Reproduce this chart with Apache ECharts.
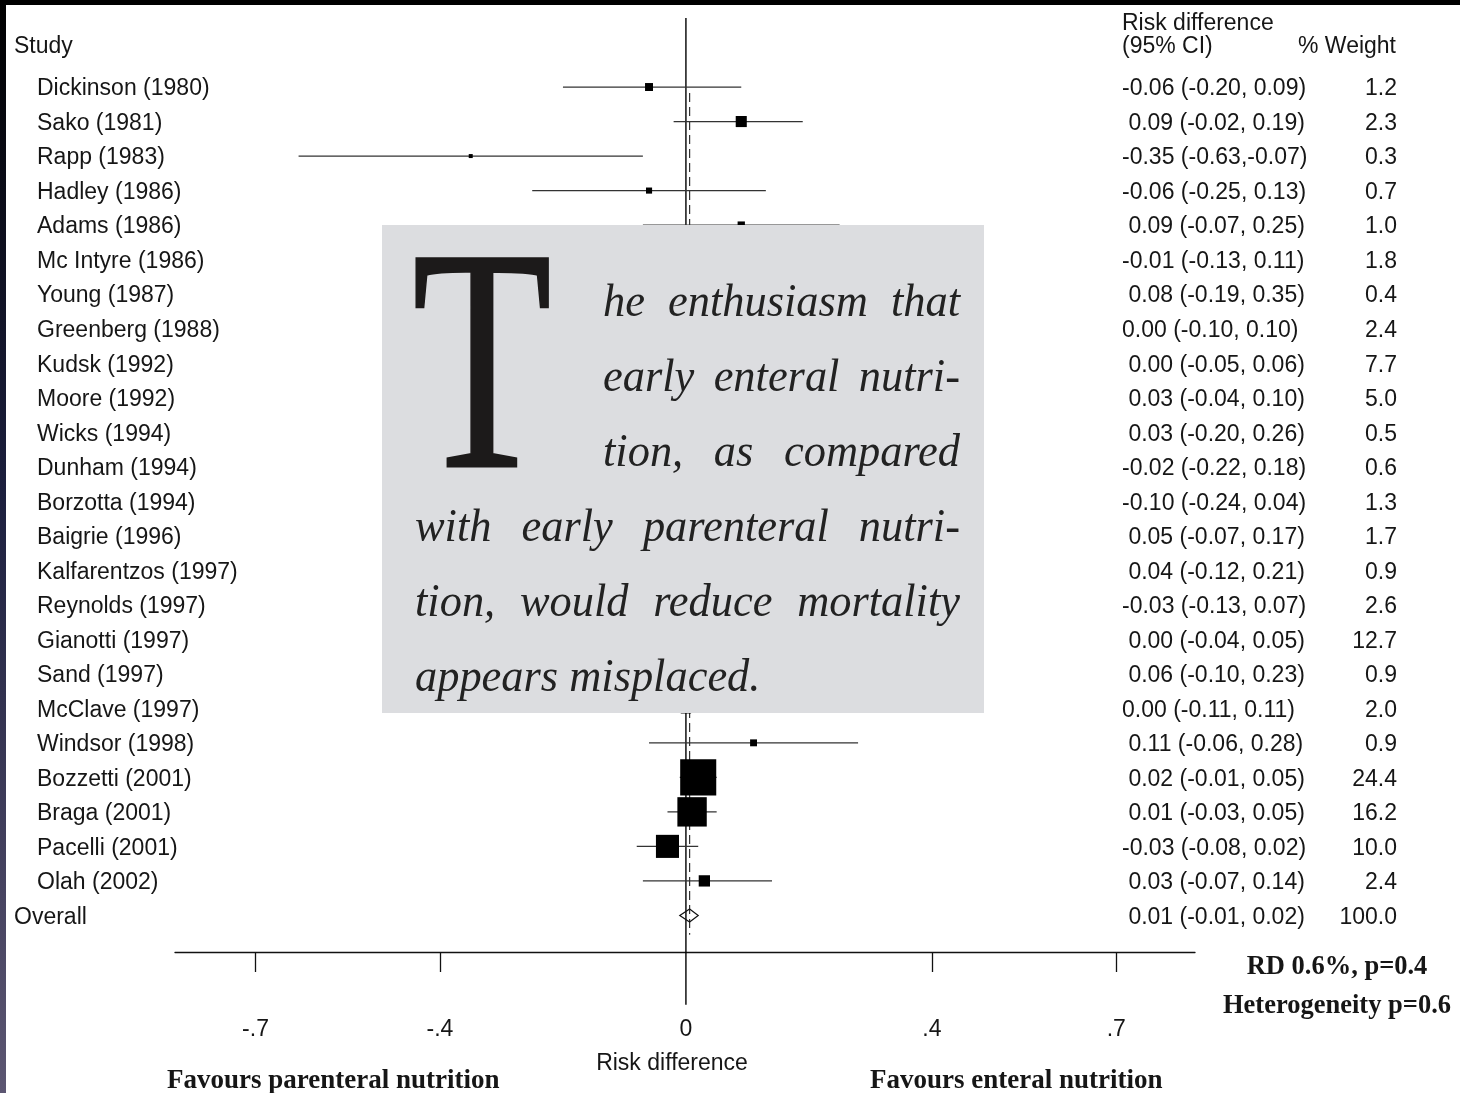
<!DOCTYPE html>
<html>
<head>
<meta charset="utf-8">
<script src="https://cdn.jsdelivr.net/npm/echarts@6/dist/echarts.min.js"></script>
<style>
html,body{margin:0;padding:0;background:#fff;}
#chart{width:1460px;height:1093px;}
</style>
</head>
<body>
<div id="chart"></div>
<script>
// ---------------- data ----------------
const studies = ['Dickinson (1980)','Sako (1981)','Rapp (1983)','Hadley (1986)','Adams (1986)','Mc Intyre (1986)','Young (1987)','Greenberg (1988)','Kudsk (1992)','Moore (1992)','Wicks (1994)','Dunham (1994)','Borzotta (1994)','Baigrie (1996)','Kalfarentzos (1997)','Reynolds (1997)','Gianotti (1997)','Sand (1997)','McClave (1997)','Windsor (1998)','Bozzetti (2001)','Braga (2001)','Pacelli (2001)','Olah (2002)'];
const rd   = [-0.06,0.09,-0.35,-0.06,0.09,-0.01,0.08,0.00,0.00,0.03,0.03,-0.02,-0.10,0.05,0.04,-0.03,0.00,0.06,0.00,0.11,0.02,0.01,-0.03,0.03];
const ciLo = [-0.20,-0.02,-0.63,-0.25,-0.07,-0.13,-0.19,-0.10,-0.05,-0.04,-0.20,-0.22,-0.24,-0.07,-0.12,-0.13,-0.04,-0.10,-0.11,-0.06,-0.01,-0.03,-0.08,-0.07];
const ciHi = [0.09,0.19,-0.07,0.13,0.25,0.11,0.35,0.10,0.06,0.10,0.26,0.18,0.04,0.17,0.21,0.07,0.05,0.23,0.11,0.28,0.05,0.05,0.02,0.14];
const weights = [1.2,2.3,0.3,0.7,1.0,1.8,0.4,2.4,7.7,5.0,0.5,0.6,1.3,1.7,0.9,2.6,12.7,0.9,2.0,0.9,24.4,16.2,10.0,2.4];
const ciLabels = ['-0.06 (-0.20, 0.09)',' 0.09 (-0.02, 0.19)','-0.35 (-0.63,-0.07)','-0.06 (-0.25, 0.13)',' 0.09 (-0.07, 0.25)','-0.01 (-0.13, 0.11)',' 0.08 (-0.19, 0.35)','0.00 (-0.10, 0.10)',' 0.00 (-0.05, 0.06)',' 0.03 (-0.04, 0.10)',' 0.03 (-0.20, 0.26)','-0.02 (-0.22, 0.18)','-0.10 (-0.24, 0.04)',' 0.05 (-0.07, 0.17)',' 0.04 (-0.12, 0.21)','-0.03 (-0.13, 0.07)',' 0.00 (-0.04, 0.05)',' 0.06 (-0.10, 0.23)','0.00 (-0.11, 0.11)',' 0.11 (-0.06, 0.28)',' 0.02 (-0.01, 0.05)',' 0.01 (-0.03, 0.05)','-0.03 (-0.08, 0.02)',' 0.03 (-0.07, 0.14)'];
const weightLabels = ['1.2','2.3','0.3','0.7','1.0','1.8','0.4','2.4','7.7','5.0','0.5','0.6','1.3','1.7','0.9','2.6','12.7','0.9','2.0','0.9','24.4','16.2','10.0','2.4'];
const overall = {label:'Overall', rd:0.006, lo:-0.01, hi:0.02, ciLabel:' 0.01 (-0.01, 0.02)', weight:'100.0'};
const tickValues = [-0.7,-0.4,0,0.4,0.7];
const tickLabels = ['-.7','-.4','0','.4','.7'];
const quoteDrop = 'T';
const quoteLines = ['he enthusiasm that','early enteral nutri-','tion, as compared','with early parenteral nutri-','tion, would reduce mortality','appears misplaced.'];

// ---------------- layout / styles ----------------
const SANS = '"Liberation Sans", Arial, sans-serif';
const SERIF = '"Liberation Serif", "Times New Roman", serif';
const textFont = '23px ' + SANS;
const ink = '#161616';
const N = studies.length;
const TY = 2; // vertical text nudge

const chart = echarts.init(document.getElementById('chart'), null, {renderer:'canvas'});

const rowData = studies.map((s,i)=>[rd[i], i, ciLo[i], ciHi[i], weights[i]]);

function txt(text, x, y, align, font, extra) {
  return Object.assign({
    type:'text',
    style:{text:text, x:x, y:y + TY, font:font||textFont, fill:ink,
      align:align||'left', verticalAlign:'middle',
      textAlign:align||'left', textVerticalAlign:'middle'}
  }, extra||{});
}

// quote box (justified text)
const quoteSize = 47, quoteSX = 0.945;
const quoteFont = 'italic ' + quoteSize + 'px ' + SERIF;
const mctx = document.createElement('canvas').getContext('2d');
mctx.font = quoteFont;
const quoteEls = [];
const boxX = 382, boxY = 225, boxW = 602, boxH = 488;
quoteEls.push({type:'rect', shape:{x:boxX,y:boxY,width:boxW,height:boxH}, style:{fill:'#dcdde0'}, z:100});
quoteEls.push({type:'text', x:482, y:383, scaleX:0.72, z:101,
  style:{text:quoteDrop, x:0, y:0, font:'318px ' + SERIF, fill:'#1c1a1a', stroke:'#1c1a1a', lineWidth:2,
    align:'center', verticalAlign:'middle', textAlign:'center', textVerticalAlign:'middle'}});
quoteLines.forEach((line, k)=>{
  const base = 318 + 75*k;
  const x0 = k < 3 ? 603 : 415;
  const x1 = 960;
  const words = line.split(' ');
  const ws = words.map(w=>mctx.measureText(w).width*quoteSX);
  const total = ws.reduce((a,b)=>a+b,0);
  const justify = k < quoteLines.length - 1;
  const gap = justify ? (x1 - x0 - total)/(words.length-1) : mctx.measureText(' ').width*quoteSX;
  let x = x0;
  words.forEach((w,j)=>{
    quoteEls.push({type:'text', z:101, x:x, y:base - 0.305*quoteSize, scaleX:quoteSX,
      style:{text:w, x:0, y:0, font:quoteFont, fill:'#222',
        align:'left', verticalAlign:'middle', textAlign:'left', textVerticalAlign:'middle'}});
    x += ws[j] + gap;
  });
});

const option = {
  backgroundColor:'#ffffff',
  animation:false,
  grid:{left:175, right:265, top:18, bottom:141, containLabel:false},
  xAxis:{
    type:'value', min:-0.831, max:0.828, position:'bottom',
    splitLine:{show:false},
    axisLine:{show:true, onZero:false, lineStyle:{color:'#111', width:1.3}},
    axisTick:{show:true, customValues:[-0.7,-0.4,0.4,0.7], length:20, inside:false, lineStyle:{color:'#111', width:1.3}},
    axisLabel:{show:true, customValues:tickValues, margin:66, color:ink, fontSize:23, fontFamily:SANS,
      formatter:function(v){ const i = tickValues.findIndex(t=>Math.abs(t-v)<1e-9); return i>=0 ? tickLabels[i] : ''; }}
  },
  yAxis:{type:'value', inverse:true, min:-2, max:25.06, show:false},
  series:[
    {
      type:'line', name:'zero', data:[[0,-2],[0,26.59]], symbol:'none', clip:false, z:3,
      lineStyle:{color:'#000', width:1.4}
    },
    {
      type:'line', name:'pooled', data:[[overall.rd,0.17],[overall.rd,24.56]], symbol:'none', clip:false, z:3,
      lineStyle:{color:'#333', width:1.2, type:[9,5]}
    },
    {
      type:'custom', name:'studies', data:rowData, clip:false, z:4,
      renderItem:function(params, api){
        const i = api.value(1);
        const pL = api.coord([api.value(2), i]);
        const pH = api.coord([api.value(3), i]);
        const pC = api.coord([api.value(0), i]);
        const s = 7.3*Math.sqrt(api.value(4));
        const idx = params.dataIndex;
        const y = pC[1];
        return {type:'group', children:[
          {type:'line', shape:{x1:pL[0], y1:y, x2:pH[0], y2:y}, style:{stroke:'#333', lineWidth:1.3}},
          {type:'rect', shape:{x:pC[0]-s/2, y:y-s/2, width:s, height:s}, style:{fill:'#000'}},
          {type:'text', style:{text:studies[idx], x:37, y:y+TY, font:textFont, fill:ink, align:'left', verticalAlign:'middle'}},
          {type:'text', style:{text:ciLabels[idx], x:1122, y:y+TY, font:textFont, fill:ink, align:'left', verticalAlign:'middle'}},
          {type:'text', style:{text:weightLabels[idx], x:1397, y:y+TY, font:textFont, fill:ink, align:'right', verticalAlign:'middle'}}
        ]};
      }
    },
    {
      type:'custom', name:'overall', data:[[overall.rd, N, overall.lo, overall.hi]], clip:false, z:4,
      renderItem:function(params, api){
        const i = api.value(1);
        const pL = api.coord([api.value(2), i]);
        const pH = api.coord([api.value(3), i]);
        const pC = api.coord([api.value(0), i]);
        const y = pC[1], h = 6.5;
        return {type:'group', children:[
          {type:'polygon', shape:{points:[[pL[0],y],[pC[0],y-h],[pH[0],y],[pC[0],y+h]]}, style:{fill:'rgba(255,255,255,0)', stroke:'#111', lineWidth:1.2}},
          {type:'text', style:{text:overall.label, x:14, y:y+TY, font:textFont, fill:ink, align:'left', verticalAlign:'middle'}},
          {type:'text', style:{text:overall.ciLabel, x:1122, y:y+TY, font:textFont, fill:ink, align:'left', verticalAlign:'middle'}},
          {type:'text', style:{text:overall.weight, x:1397, y:y+TY, font:textFont, fill:ink, align:'right', verticalAlign:'middle'}}
        ]};
      }
    }
  ],
  graphic:{elements:[
    {type:'rect', shape:{x:0,y:0,width:1460,height:5}, style:{fill:'#000'}, z:200},
    {type:'rect', shape:{x:0,y:0,width:6,height:1093}, z:200,
      style:{fill:new echarts.graphic.LinearGradient(0,0,0,1,[{offset:0,color:'#000000'},{offset:0.45,color:'#1c1f3e'},{offset:1,color:'#5c5672'}])}},
    txt('Study', 14, 45),
    txt('Risk difference', 1122, 22),
    txt('(95% CI)', 1122, 45),
    txt('% Weight', 1396, 45, 'right'),
    txt('Risk difference', 672, 1062, 'center'),
    txt('Favours parenteral nutrition', 167, 1079, 'left', 'bold 27px ' + SERIF),
    txt('Favours enteral nutrition', 870, 1079, 'left', 'bold 27px ' + SERIF),
    txt('RD 0.6%, p=0.4', 1337, 965, 'center', 'bold 26.5px ' + SERIF),
    txt('Heterogeneity p=0.6', 1337, 1004, 'center', 'bold 26.5px ' + SERIF)
  ].concat(quoteEls)}
};
chart.setOption(option);
</script>
</body>
</html>
